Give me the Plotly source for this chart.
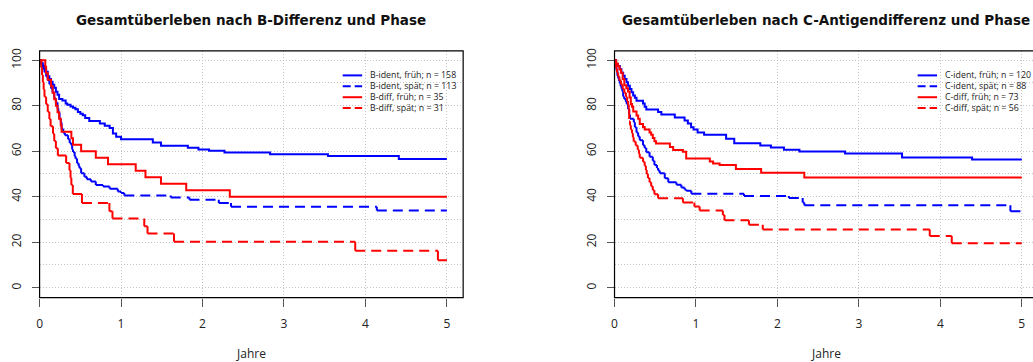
import plotly.graph_objects as go

# ---------------- survival data (years, overall survival in %) ----------------
# B antigen panel
b_ident_frueh_t = [0.02, 0.04, 0.06, 0.08, 0.10, 0.12, 0.14, 0.16, 0.18, 0.20, 0.22, 0.24, 0.28, 0.32,
                   0.34, 0.38, 0.41, 0.44, 0.47, 0.50, 0.53, 0.56, 0.61, 0.74, 0.80, 0.86, 0.90, 0.94,
                   1.00, 1.39, 1.49, 1.82, 1.95, 2.08, 2.27, 2.83, 3.54, 4.41]
b_ident_frueh_s = [98.7, 97.5, 96.2, 94.9, 93.0, 91.8, 90.5, 89.2, 87.9, 86.1, 84.8, 83.0, 82.3, 81.0,
                   80.4, 79.7, 79.1, 78.4, 77.2, 76.5, 75.8, 74.6, 73.3, 72.2, 71.2, 70.2, 67.8, 66.4,
                   65.3, 63.8, 62.4, 61.5, 60.8, 60.2, 59.5, 58.7, 57.9, 56.6]

b_ident_spaet_t = [0.02, 0.04, 0.06, 0.08, 0.10, 0.12, 0.14, 0.16, 0.18, 0.20, 0.22, 0.23, 0.245, 0.26,
                   0.27, 0.29, 0.31, 0.35, 0.37, 0.39, 0.40, 0.41, 0.43, 0.44, 0.46, 0.48, 0.49, 0.51,
                   0.55, 0.58, 0.63, 0.69, 0.78, 0.86, 0.96, 1.00, 1.04, 1.61, 1.84, 2.20, 2.35, 4.14]
b_ident_spaet_s = [98.2, 96.5, 94.7, 92.9, 91.2, 89.4, 87.6, 85.8, 83.2, 81.4, 78.8, 77.0, 74.3, 72.6,
                   69.9, 68.1, 67.0, 65.3, 63.6, 62.6, 60.8, 59.7, 57.9, 56.8, 54.7, 53.5, 52.5, 50.3,
                   48.8, 47.7, 46.7, 45.2, 44.5, 43.5, 42.3, 41.6, 40.6, 39.7, 38.7, 37.2, 35.6, 33.9]

b_diff_frueh_t = [0.07, 0.08, 0.10, 0.14, 0.16, 0.18, 0.20, 0.22, 0.24, 0.26, 0.27, 0.39, 0.41, 0.51,
                  0.69, 0.84, 1.18, 1.30, 1.49, 1.80, 2.335]
b_diff_frueh_s = [97.1, 94.3, 91.4, 88.6, 85.7, 82.9, 80.0, 77.1, 74.3, 71.4, 68.6, 65.7, 62.9, 60.0,
                  57.1, 54.3, 51.4, 48.6, 45.7, 42.9, 40.0]

b_diff_spaet_t = [0.02, 0.03, 0.04, 0.05, 0.06, 0.08, 0.10, 0.12, 0.135, 0.165, 0.18, 0.20, 0.224,
                  0.326, 0.367, 0.38, 0.39, 0.408, 0.52, 0.857, 0.895, 1.285, 1.325, 1.65, 3.875, 4.89]
b_diff_spaet_s = [96.8, 93.5, 90.3, 87.1, 83.9, 80.6, 77.4, 74.2, 71.0, 67.7, 64.5, 61.3, 58.1,
                  54.8, 51.6, 48.4, 45.2, 41.2, 37.3, 33.6, 30.4, 27.0, 23.8, 20.2, 16.3, 12.1]

# C antigen panel
c_ident_frueh_t = [0.02, 0.04, 0.065, 0.085, 0.106, 0.125, 0.147, 0.165, 0.188, 0.208, 0.229, 0.25,
                   0.27, 0.35, 0.37, 0.39, 0.535, 0.575, 0.74, 0.86, 0.90, 0.94, 0.97, 1.02, 1.10,
                   1.37, 1.47, 1.79, 1.92, 2.08, 2.27, 2.83, 3.53, 4.39]
c_ident_frueh_s = [98.3, 97.5, 96.0, 94.5, 93.2, 91.7, 90.3, 88.8, 87.4, 85.9, 84.5, 83.5,
                   82.2, 81.0, 79.5, 78.3, 77.2, 76.2, 74.8, 73.5, 72.2, 70.5, 69.5, 68.2, 67.2,
                   65.5, 63.5, 62.5, 61.6, 60.6, 59.9, 59.0, 57.3, 56.4]

c_ident_spaet_t = [0.015, 0.024, 0.035, 0.045, 0.055, 0.065, 0.075, 0.086, 0.096, 0.106, 0.12, 0.139,
                   0.15, 0.167, 0.18, 0.19, 0.237, 0.25, 0.27, 0.29, 0.31, 0.35, 0.37, 0.39, 0.43,
                   0.47, 0.49, 0.52, 0.535, 0.555, 0.617, 0.66, 0.76, 0.82, 0.86, 0.88, 0.943, 1.59,
                   2.14, 2.31, 2.33, 4.86]
c_ident_spaet_s = [97.7, 95.5, 93.2, 92.0, 90.9, 89.8, 88.6, 87.5, 86.4, 84.1, 83.0, 81.8,
                   80.7, 78.4, 76.1, 74.3, 72.7, 70.5, 68.2, 66.5, 64.8, 62.6, 61.4, 59.6, 57.6,
                   55.8, 53.9, 52.6, 51.5, 50.3, 48.1, 46.4, 45.3, 44.1, 43.2, 42.6, 41.3, 40.3,
                   39.4, 37.5, 36.3, 33.6]

c_diff_frueh_t = [0.02, 0.04, 0.06, 0.08, 0.10, 0.12, 0.145, 0.165, 0.185, 0.20, 0.215, 0.23, 0.27,
                  0.29, 0.31, 0.35, 0.37, 0.43, 0.45, 0.47, 0.49, 0.51, 0.68, 0.72, 0.84, 0.88, 1.17,
                  1.21, 1.29, 1.49, 1.80, 2.33]
c_diff_frueh_s = [98.6, 97.3, 95.9, 94.5, 91.8, 89.0, 87.7, 86.3, 83.6, 80.8, 79.5, 77.5, 75.7,
                  74.3, 72.0, 70.6, 69.6, 68.2, 67.2, 65.8, 64.4, 63.4, 61.9, 60.5, 59.8, 56.8, 55.5,
                  54.6, 53.9, 52.2, 50.6, 48.5]

c_diff_spaet_t = [0.01, 0.02, 0.03, 0.045, 0.06, 0.08, 0.10, 0.12, 0.14, 0.155, 0.165, 0.175, 0.18,
                  0.19, 0.20, 0.215, 0.225, 0.235, 0.26, 0.285, 0.30, 0.31, 0.35, 0.37, 0.385, 0.395,
                  0.41, 0.43, 0.45, 0.47, 0.49, 0.535, 0.84, 0.98, 1.045, 1.33, 1.35, 1.65, 1.82,
                  3.87, 4.14]
c_diff_spaet_s = [98.2, 96.4, 94.6, 92.9, 91.1, 89.3, 87.5, 85.7, 83.9, 82.1, 80.4, 78.6, 73.2,
                  71.4, 69.6, 67.9, 66.1, 64.3, 62.5, 60.7, 58.9, 57.1, 55.4, 53.6, 51.8, 50.0,
                  48.2, 46.4, 44.6, 42.9, 41.1, 39.3, 37.5, 35.7, 33.9, 32.0, 29.7, 27.7, 25.6,
                  22.8, 19.6]

follow_up_end = 5.0

b_groups = ["B-ident, früh", "B-ident, spät", "B-diff, früh", "B-diff, spät"]
b_n = [158, 113, 35, 31]
c_groups = ["C-ident, früh", "C-ident, spät", "C-diff, früh", "C-diff, spät"]
c_n = [120, 88, 73, 56]

panel_titles = ["Gesamtüberleben nach B-Differenz und Phase",
                "Gesamtüberleben nach C-Antigendifferenz und Phase"]
x_ticks = [0, 1, 2, 3, 4, 5]
y_ticks = [0, 20, 40, 60, 80, 100]
x_title = "Jahre"

# ---------------- styling ----------------
W, H = 1033, 362
FONT = "Open Sans"
TITLE_FONT = "DejaVu Sans"
line_colors = ["#0000FF", "#0000FF", "#FF0000", "#FF0000"]
line_dashed = [False, True, False, True]
DASH = "10px,6px"
GRID = dict(gridcolor="#c4c4c4", griddash="1px,2px", gridwidth=1)

FRAME_TOP, FRAME_BOTTOM = 48.3, 297.0
PANEL_PX = [(36.7, 461.5), (613.3, 1038.1)]   # frame left/right in pixels
X_SPAN = 5.2
Y_RANGE = [-4.3, 104.1]


def fx(px):
    return px / W


def fy(py):
    return 1 - py / H


def step_xy(times, surv, t_end):
    """Kaplan-Meier step path starting at 100 %."""
    xs, ys = [0.0], [100.0]
    level = 100.0
    for t, s in zip(times, surv):
        xs += [t, t]
        ys += [level, s]
        level = s
    xs.append(t_end)
    ys.append(level)
    return xs, ys


def split_segments(xs, ys):
    """Every step edge as its own sub-path so the dash pattern restarts on each."""
    sx, sy = [], []
    for i in range(len(xs) - 1):
        if xs[i] == xs[i + 1] and ys[i] == ys[i + 1]:
            continue
        sx += [xs[i], xs[i + 1], None]
        sy += [ys[i], ys[i + 1], None]
    return sx, sy


panels = [
    dict(series=[(b_ident_frueh_t, b_ident_frueh_s), (b_ident_spaet_t, b_ident_spaet_s),
                 (b_diff_frueh_t, b_diff_frueh_s), (b_diff_spaet_t, b_diff_spaet_s)],
         groups=b_groups, n=b_n),
    dict(series=[(c_ident_frueh_t, c_ident_frueh_s), (c_ident_spaet_t, c_ident_spaet_s),
                 (c_diff_frueh_t, c_diff_frueh_s), (c_diff_spaet_t, c_diff_spaet_s)],
         groups=c_groups, n=c_n),
]

fig = go.Figure()
shapes = []
annotations = []

for p, panel in enumerate(panels):
    xa = "x" if p == 0 else "x2"
    ya = "y" if p == 0 else "y2"
    left_px, right_px = PANEL_PX[p]

    for k, (t, s) in enumerate(panel["series"]):
        xs, ys = step_xy(t, s, follow_up_end)
        if line_dashed[k]:
            xs, ys = split_segments(xs, ys)
            line = dict(color=line_colors[k], width=2, dash=DASH)
        else:
            line = dict(color=line_colors[k], width=2)
        fig.add_trace(go.Scatter(x=xs, y=ys, mode="lines", line=line, xaxis=xa, yaxis=ya,
                                 name=f"{panel['groups'][k]}; n = {panel['n'][k]}",
                                 showlegend=False, hoverinfo="skip", connectgaps=False))

    # plot frame
    shapes.append(dict(type="rect", xref="paper", yref="paper", layer="above",
                       x0=fx(left_px), x1=fx(right_px), y0=fy(FRAME_BOTTOM), y1=fy(FRAME_TOP),
                       line=dict(color="#000000", width=1.2), fillcolor="rgba(0,0,0,0)"))

    # legend (line sample + label), top right inside the frame
    for k in range(4):
        row_y = 73.0 + 11.0 * k
        shapes.append(dict(type="line", xref="paper", yref="paper",
                           x0=fx(left_px + 304), x1=fx(left_px + 323.5),
                           y0=fy(row_y), y1=fy(row_y),
                           line=dict(color=line_colors[k], width=2,
                                     dash="8px,4px" if line_dashed[k] else "solid")))
        annotations.append(dict(xref="paper", yref="paper", x=fx(left_px + 330), y=fy(row_y),
                                xanchor="left", yanchor="middle", showarrow=False, borderpad=0,
                                text=f"{panel['groups'][k]}; n = {panel['n'][k]}",
                                font=dict(family=FONT, size=8.8, color="#222222")))

    centre = fx((left_px + right_px) / 2)
    annotations.append(dict(xref="paper", yref="paper", x=centre, y=fy(17.5), xanchor="center",
                            yanchor="middle", showarrow=False, text=f"<b>{panel_titles[p]}</b>",
                            font=dict(family=TITLE_FONT, size=13.5, color="#111111")))
    annotations.append(dict(xref="paper", yref="paper", x=centre, y=fy(353.5), xanchor="center",
                            yanchor="middle", showarrow=False, text=x_title,
                            font=dict(family=FONT, size=12, color="#222222")))

x_common = dict(tickmode="array", tickvals=x_ticks, ticks="outside", ticklen=8, tickwidth=1,
                tickcolor="#555555", showgrid=True, zeroline=False, showline=False,
                tickfont=dict(family=FONT, size=12, color="#222222"), ticklabelstandoff=7,
                **GRID)
y_common = dict(tickmode="linear", tick0=0, dtick=20, range=Y_RANGE, ticks="outside", ticklen=7,
                tickwidth=1, tickcolor="#555555", tickangle=-90, showgrid=True, zeroline=False,
                showline=False, tickfont=dict(family=FONT, size=12, color="#222222"),
                ticklabelstandoff=6,
                minor=dict(tick0=0, dtick=10, showgrid=True, ticks="", **GRID), **GRID)

left1, right1 = PANEL_PX[0]
left2, right2 = PANEL_PX[1]
fig.update_layout(
    width=W, height=H, margin=dict(l=0, r=0, t=0, b=0),
    paper_bgcolor="white", plot_bgcolor="white", showlegend=False,
    xaxis=dict(domain=[fx(left1), fx(right1)], range=[0, X_SPAN], anchor="y", **x_common),
    yaxis=dict(domain=[fy(FRAME_BOTTOM), fy(FRAME_TOP)], anchor="x", **y_common),
    xaxis2=dict(domain=[fx(left2), 1.0], range=[0, X_SPAN * (W - left2) / (right2 - left2)],
                anchor="y2", **x_common),
    yaxis2=dict(domain=[fy(FRAME_BOTTOM), fy(FRAME_TOP)], anchor="x2", **y_common),
    shapes=shapes, annotations=annotations,
)

fig.write_html("out.html")
